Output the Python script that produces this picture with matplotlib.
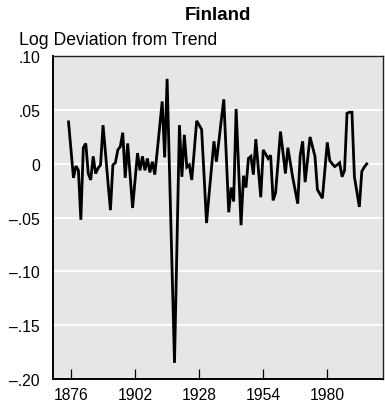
import matplotlib
matplotlib.use("Agg")
import matplotlib.pyplot as plt
from matplotlib.ticker import FixedLocator, FixedFormatter

plt.rcParams['font.family'] = ['Liberation Sans', 'DejaVu Sans']

# Annual log deviation of output from trend, Finland 1875-1996
years = list(range(1875, 1997))
deviation = [
    0.039, 0.013, -0.013, -0.002, -0.006, -0.052, 0.015, 0.019, -0.009, -0.015,   # 1875-1884
    0.007, -0.009, -0.004, -0.001, 0.036, 0.010, -0.017, -0.043, -0.001, 0.001,   # 1885-1894
    0.013, 0.016, 0.029, -0.013, 0.019, -0.011, -0.041, -0.015, 0.010, -0.006,    # 1895-1904
    0.007, -0.006, 0.005, -0.008, 0.002, -0.010, 0.012, 0.035, 0.058, 0.006,      # 1905-1914
    0.079, -0.009, -0.097, -0.185, -0.075, 0.036, -0.012, 0.027, -0.003, -0.001,  # 1915-1924
    -0.015, 0.012, 0.040, 0.036, 0.032, -0.011, -0.055, -0.029, -0.004, 0.021,    # 1925-1934
    0.002, 0.021, 0.041, 0.060, 0.008, -0.045, -0.022, -0.035, 0.051, -0.003,     # 1935-1944
    -0.057, -0.011, -0.022, 0.005, 0.007, -0.010, 0.023, -0.004, -0.031, 0.013,   # 1945-1954
    0.009, 0.005, 0.008, -0.034, -0.027, 0.001, 0.030, 0.011, -0.009, 0.015,      # 1955-1964
    0.001, -0.013, -0.025, -0.037, 0.008, 0.021, -0.017, 0.004, 0.025, 0.016,     # 1965-1974
    0.007, -0.024, -0.028, -0.032, -0.006, 0.020, 0.003, 0.000, -0.0025, -0.001,  # 1975-1984
    0.001, -0.012, -0.006, 0.047, 0.048, 0.048, -0.012, -0.026, -0.040, -0.007,   # 1985-1994
    -0.003, 0.000,                                                                 # 1995-1996
]

x_ticks = [1876, 1902, 1928, 1954, 1980]
y_ticks = [-0.20, -0.15, -0.10, -0.05, 0.0, 0.05, 0.10]
y_tick_labels = ['\u2013.20', '\u2013.15', '\u2013.10', '\u2013.05', '0', '.05', '.10']

fig = plt.figure(figsize=(3.85, 4.06), dpi=100)
ax = fig.add_axes([0.1364, 0.0640, 0.8584, 0.7949])
ax.set_facecolor('#e6e6e6')

ax.plot(years, deviation, color='black', linewidth=2.0, solid_joinstyle='miter')

ax.set_xlim(1868.5, 2002.6)
ax.set_ylim(-0.20, 0.10)

ax.xaxis.set_major_locator(FixedLocator(x_ticks))
ax.yaxis.set_major_locator(FixedLocator(y_ticks))
ax.yaxis.set_major_formatter(FixedFormatter(y_tick_labels))

ax.grid(axis='y', color='white', linewidth=1.3)
ax.set_axisbelow(True)

ax.tick_params(axis='x', direction='in', length=7.5, width=0.9, color='black',
               labelsize=11.3, pad=6)
ax.tick_params(axis='y', length=0, labelsize=11.3, pad=9)

for side in ['left', 'bottom']:
    ax.spines[side].set_linewidth(1.4)
    ax.spines[side].set_color('black')
for side in ['top', 'right']:
    ax.spines[side].set_linewidth(1.0)
    ax.spines[side].set_color('#222222')

fig.text(0.5649, 0.9620, 'Finland', ha='center', va='center',
         fontsize=13.5, fontweight='bold')
fig.text(0.049, 0.9000, 'Log Deviation from Trend', ha='left', va='center',
         fontsize=12.7)

fig.savefig('out.png', dpi=100)
